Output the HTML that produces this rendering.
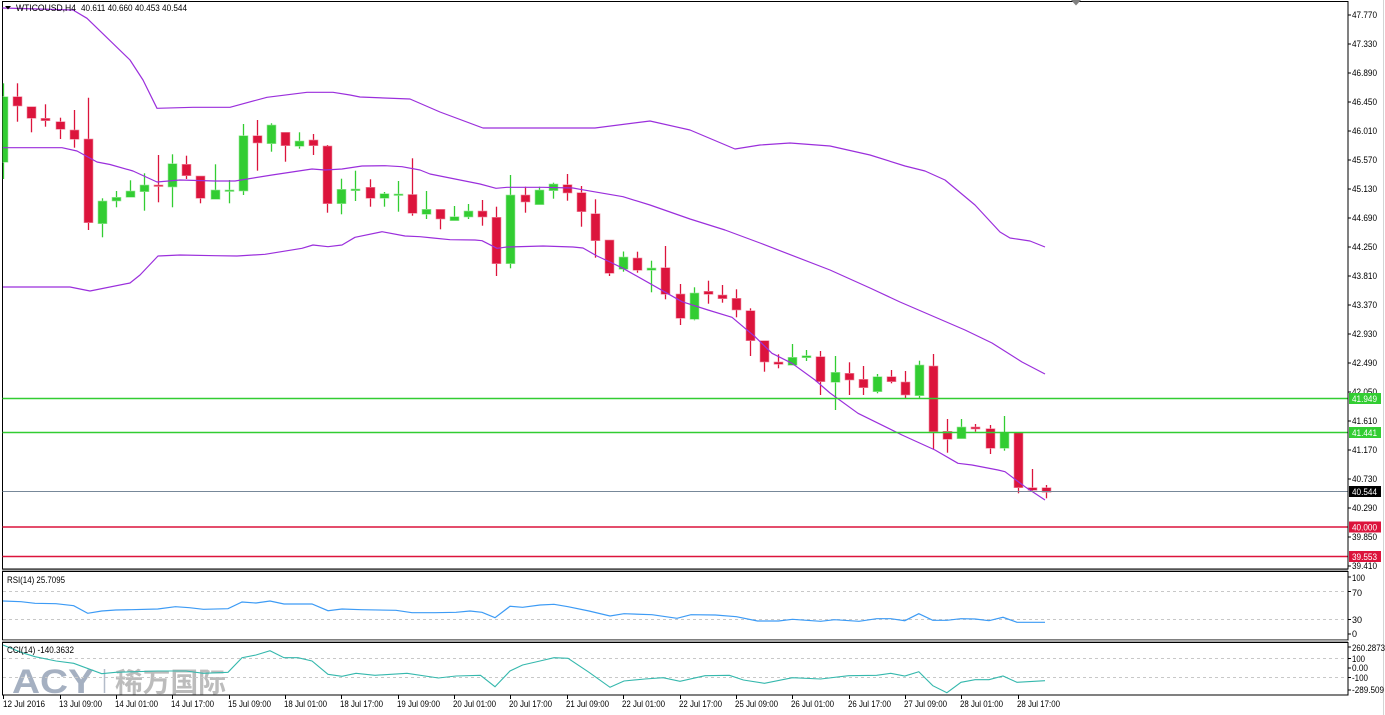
<!DOCTYPE html>
<html><head><meta charset="utf-8"><style>
html,body{margin:0;padding:0;background:#fff;}
svg{display:block;}
text{font-family:"Liberation Sans","Noto Sans CJK SC",sans-serif;font-size:9px;fill:#000;}
.r rect{fill:#DC143C;stroke:#f08aa0;stroke-width:0.6}
.r line{stroke:#DC143C;stroke-width:1.3}
.g rect{fill:#32CD32;stroke:#9be89b;stroke-width:0.6}
.g line{stroke:#32CD32;stroke-width:1.3}
</style></head><body>
<svg width="1385" height="715" viewBox="0 0 1385 715" xmlns="http://www.w3.org/2000/svg">
<defs><clipPath id="mc"><rect x="2.5" y="1.5" width="1345" height="567"/></clipPath>
<clipPath id="rc"><rect x="2.5" y="571.5" width="1345" height="68"/></clipPath>
<clipPath id="cc"><rect x="2.5" y="642.5" width="1345" height="52"/></clipPath></defs>
<rect width="1385" height="715" fill="#fff"/>
<line x1="1383.5" y1="0" x2="1383.5" y2="715" stroke="#d4d4d4"/>
<!-- panel frames -->
<rect x="2.5" y="1.5" width="1345.5" height="567.5" fill="none" stroke="#000"/>
<rect x="2" y="569.5" width="1346" height="2" fill="#a8a8a8"/>
<rect x="2.5" y="571.5" width="1345.5" height="68.5" fill="none" stroke="#000"/>
<rect x="2" y="640" width="1346" height="2.5" fill="#a8a8a8"/>
<rect x="2.5" y="642.5" width="1345.5" height="52.5" fill="none" stroke="#000"/>
<polygon points="1071,0 1081,0 1076,5.5" fill="#808080"/>
<!-- watermark -->
<g opacity="0.75">
<text x="12" y="693" style="font-size:34px;font-weight:bold;fill:#8796ad" textLength="82" lengthAdjust="spacingAndGlyphs">ACY</text>
<line x1="104.5" y1="669" x2="104.5" y2="693" stroke="#9aa6b8" stroke-width="1.5"/>
<text x="115" y="692" style="font-size:27px;font-weight:bold;fill:#a6a6a6" textLength="111" lengthAdjust="spacingAndGlyphs">稀万国际</text>
</g>
<g clip-path="url(#mc)">
<g class="r">
<line x1="17.5" y1="83.3" x2="17.5" y2="121.7"/><rect x="13" y="96.7" width="9" height="9.3"/>
<line x1="31.5" y1="106.7" x2="31.5" y2="132.3"/><rect x="27" y="106.7" width="9" height="11.6"/>
<line x1="45.5" y1="104.3" x2="45.5" y2="126.7"/><rect x="41" y="118.3" width="9" height="2.4"/>
<line x1="60.5" y1="117.7" x2="60.5" y2="139"/><rect x="56" y="121.7" width="9" height="7.6"/>
<line x1="74.5" y1="110" x2="74.5" y2="147.7"/><rect x="70" y="130" width="9" height="9.3"/>
<line x1="88.5" y1="97.7" x2="88.5" y2="230"/><rect x="84" y="139" width="9" height="83.7"/>
<line x1="158.5" y1="155" x2="158.5" y2="202.3"/><rect x="154" y="185" width="9" height="1.5"/>
<line x1="186.5" y1="155.7" x2="186.5" y2="179"/><rect x="182" y="164.3" width="9" height="11.4"/>
<line x1="200.5" y1="176" x2="200.5" y2="203.3"/><rect x="196" y="176" width="9" height="22.3"/>
<line x1="257.5" y1="120" x2="257.5" y2="170.7"/><rect x="253" y="135.7" width="9" height="7.3"/>
<line x1="285.5" y1="132.3" x2="285.5" y2="161.7"/><rect x="281" y="132.3" width="9" height="13.4"/>
<line x1="313.5" y1="134" x2="313.5" y2="155"/><rect x="309" y="140" width="9" height="5.7"/>
<line x1="327.5" y1="145" x2="327.5" y2="212.7"/><rect x="323" y="146" width="9" height="57.7"/>
<line x1="370.5" y1="179.3" x2="370.5" y2="206.7"/><rect x="366" y="187.3" width="9" height="11"/>
<line x1="412.5" y1="158.3" x2="412.5" y2="215.7"/><rect x="408" y="194.5" width="9" height="18.8"/>
<line x1="440.5" y1="209.3" x2="440.5" y2="229.3"/><rect x="436" y="209.3" width="9" height="9.7"/>
<line x1="482.5" y1="200" x2="482.5" y2="225.7"/><rect x="478" y="211" width="9" height="6"/>
<line x1="496.5" y1="206.7" x2="496.5" y2="276"/><rect x="492" y="217.3" width="9" height="46.4"/>
<line x1="525.5" y1="186.7" x2="525.5" y2="212.7"/><rect x="521" y="195" width="9" height="7"/>
<line x1="567.5" y1="174" x2="567.5" y2="200.7"/><rect x="563" y="184.7" width="9" height="8.3"/>
<line x1="581.5" y1="186" x2="581.5" y2="226.7"/><rect x="577" y="192.7" width="9" height="19"/>
<line x1="595.5" y1="199.3" x2="595.5" y2="257.7"/><rect x="591" y="213.7" width="9" height="27"/>
<line x1="609.5" y1="240" x2="609.5" y2="276"/><rect x="605" y="240" width="9" height="33.3"/>
<line x1="637.5" y1="251.7" x2="637.5" y2="272.7"/><rect x="633" y="258" width="9" height="12.3"/>
<line x1="665.5" y1="246" x2="665.5" y2="299.3"/><rect x="661" y="267.7" width="9" height="26.6"/>
<line x1="680.5" y1="284" x2="680.5" y2="325"/><rect x="676" y="294" width="9" height="24.3"/>
<line x1="708.5" y1="280.7" x2="708.5" y2="303.7"/><rect x="704" y="291.3" width="9" height="3"/>
<line x1="722.5" y1="285" x2="722.5" y2="302.7"/><rect x="718" y="295" width="9" height="3.7"/>
<line x1="736.5" y1="289.3" x2="736.5" y2="317.3"/><rect x="732" y="298.3" width="9" height="11.7"/>
<line x1="750.5" y1="308.3" x2="750.5" y2="356"/><rect x="746" y="310.7" width="9" height="30"/>
<line x1="764.5" y1="340.7" x2="764.5" y2="371.7"/><rect x="760" y="340.7" width="9" height="21.3"/>
<line x1="778.5" y1="354.3" x2="778.5" y2="368.3"/><rect x="774" y="362" width="9" height="2.3"/>
<line x1="820.5" y1="351" x2="820.5" y2="395"/><rect x="816" y="356.7" width="9" height="25"/>
<line x1="849.5" y1="362.3" x2="849.5" y2="395"/><rect x="845" y="373.3" width="9" height="6.7"/>
<line x1="863.5" y1="366" x2="863.5" y2="395"/><rect x="859" y="379.3" width="9" height="8.4"/>
<line x1="891.5" y1="370" x2="891.5" y2="383.3"/><rect x="887" y="376.7" width="9" height="5"/>
<line x1="905.5" y1="371" x2="905.5" y2="398.3"/><rect x="901" y="382" width="9" height="13"/>
<line x1="933.5" y1="354" x2="933.5" y2="449.3"/><rect x="929" y="366" width="9" height="65.7"/>
<line x1="947.5" y1="419" x2="947.5" y2="452.7"/><rect x="943" y="431.3" width="9" height="8"/>
<line x1="975.5" y1="424" x2="975.5" y2="431.7"/><rect x="971" y="427" width="9" height="2"/>
<line x1="990.5" y1="425" x2="990.5" y2="454"/><rect x="986" y="428.7" width="9" height="19.6"/>
<line x1="1018.5" y1="432.7" x2="1018.5" y2="493.3"/><rect x="1014" y="432.7" width="9" height="55"/>
<line x1="1032.5" y1="469" x2="1032.5" y2="491.7"/><rect x="1028" y="487.7" width="9" height="2.6"/>
<line x1="1046.5" y1="485" x2="1046.5" y2="498.3"/><rect x="1042" y="487.7" width="9" height="4.6"/>
</g>
<g class="g">
<line x1="3.5" y1="83.3" x2="3.5" y2="179"/><rect x="-1" y="96.7" width="9" height="65.6"/>
<line x1="102.5" y1="198.3" x2="102.5" y2="237.3"/><rect x="98" y="201" width="9" height="22.7"/>
<line x1="116.5" y1="191" x2="116.5" y2="207.3"/><rect x="112" y="197.3" width="9" height="3.7"/>
<line x1="130.5" y1="180.3" x2="130.5" y2="197.3"/><rect x="126" y="191" width="9" height="6.3"/>
<line x1="144.5" y1="173.3" x2="144.5" y2="210.7"/><rect x="140" y="185" width="9" height="6.7"/>
<line x1="172.5" y1="154.3" x2="172.5" y2="207.3"/><rect x="168" y="163.7" width="9" height="23.3"/>
<line x1="215.5" y1="164.3" x2="215.5" y2="199.3"/><rect x="211" y="190" width="9" height="9.3"/>
<line x1="229.5" y1="180" x2="229.5" y2="203.3"/><rect x="225" y="190" width="9" height="1.5"/>
<line x1="243.5" y1="124" x2="243.5" y2="195"/><rect x="239" y="135.7" width="9" height="55.3"/>
<line x1="271.5" y1="123.3" x2="271.5" y2="151.7"/><rect x="267" y="125" width="9" height="18.7"/>
<line x1="299.5" y1="132.3" x2="299.5" y2="148.7"/><rect x="295" y="141" width="9" height="5.3"/>
<line x1="341.5" y1="178.7" x2="341.5" y2="214.3"/><rect x="337" y="189.3" width="9" height="14.4"/>
<line x1="355.5" y1="170.7" x2="355.5" y2="201"/><rect x="351" y="189" width="9" height="1.7"/>
<line x1="384.5" y1="192" x2="384.5" y2="206.7"/><rect x="380" y="193.7" width="9" height="4.6"/>
<line x1="398.5" y1="181" x2="398.5" y2="211.7"/><rect x="394" y="194" width="9" height="1.5"/>
<line x1="426.5" y1="191" x2="426.5" y2="219"/><rect x="422" y="209.3" width="9" height="5"/>
<line x1="454.5" y1="206" x2="454.5" y2="220.7"/><rect x="450" y="216.7" width="9" height="4"/>
<line x1="468.5" y1="204" x2="468.5" y2="219"/><rect x="464" y="211" width="9" height="6"/>
<line x1="510.5" y1="175" x2="510.5" y2="268.3"/><rect x="506" y="195" width="9" height="68.7"/>
<line x1="539.5" y1="186.7" x2="539.5" y2="204.7"/><rect x="535" y="190" width="9" height="14.7"/>
<line x1="553.5" y1="182.7" x2="553.5" y2="198.7"/><rect x="549" y="184" width="9" height="6.7"/>
<line x1="623.5" y1="251.5" x2="623.5" y2="271.7"/><rect x="619" y="257" width="9" height="12.3"/>
<line x1="651.5" y1="260.7" x2="651.5" y2="292.3"/><rect x="647" y="268" width="9" height="2.3"/>
<line x1="694.5" y1="287.3" x2="694.5" y2="320.3"/><rect x="690" y="293" width="9" height="26.3"/>
<line x1="792.5" y1="344" x2="792.5" y2="365.3"/><rect x="788" y="357.3" width="9" height="8"/>
<line x1="806.5" y1="350" x2="806.5" y2="361"/><rect x="802" y="355.7" width="9" height="2"/>
<line x1="835.5" y1="356" x2="835.5" y2="410"/><rect x="831" y="372.3" width="9" height="10"/>
<line x1="877.5" y1="374" x2="877.5" y2="393.3"/><rect x="873" y="376.7" width="9" height="15"/>
<line x1="919.5" y1="360.7" x2="919.5" y2="398.3"/><rect x="915" y="365" width="9" height="30.7"/>
<line x1="961.5" y1="419" x2="961.5" y2="438.7"/><rect x="957" y="427" width="9" height="11.7"/>
<line x1="1004.5" y1="416" x2="1004.5" y2="450.7"/><rect x="1000" y="432.7" width="9" height="15.6"/>
</g>
<!-- Bollinger bands -->
<g fill="none" stroke="#9b2fdc" stroke-width="1.2" stroke-linejoin="round">
<polyline points="2,8 73,10 87,18.3 130,60 143,80 157,108.3 193,107.3 230,107.3 267,97.3 307,92.3 333,92.3 350,95 360,97 410,99 440,112 483,128 530,128 595,128 650,121 690,130 735,149 760,145 790,143 830,146 870,155 905,166 925,171 945,180 975,205 1000,232 1010,238 1030,241 1045,247"/>
<polyline points="3,147.7 62,147.7 77,151 97,162 110,164.5 133,171 157,182 180,180 215,181 235,181 272,175 312,169 325,170 342,169 362,166 385,165.7 402,166.7 420,170 430,174 460,180 480,184 496,188.3 507,187.3 543,187.3 573,188 580,189.3 623,196.7 650,205 690,219 725,230 760,243 830,270 870,288 900,302 965,330 992,343 1022,362 1045,374"/>
<polyline points="3,287 70,287 90,291 130,283 140,275 158,256 180,255 215,255.7 237,256 265,254.3 302,248.3 313,245 328,246.7 342,245 355,237.3 382,231.7 405,236 420,236.7 433,238 450,239.7 475,240 482,240.7 497,248.3 507,247 543,246 573,247 583,248 597,256 610,262 623,268.3 682,301.7 708,310 732,317.3 755,336.7 772,353.3 792,363.3 815,380 830,393 858,413.3 902,435 935,450 958,463.3 972,465 998,470 1005,471.7 1025,486.7 1045,500"/>
</g>
<!-- horizontal lines -->
<line x1="2" y1="398.5" x2="1348" y2="398.5" stroke="#32CD32" stroke-width="1.6"/>
<line x1="2" y1="432.5" x2="1348" y2="432.5" stroke="#32CD32" stroke-width="1.6"/>
<line x1="2" y1="491.5" x2="1348" y2="491.5" stroke="#778899" stroke-width="1"/>
<line x1="2" y1="527" x2="1348" y2="527" stroke="#DC143C" stroke-width="1.6"/>
<line x1="2" y1="556.5" x2="1348" y2="556.5" stroke="#DC143C" stroke-width="1.6"/>
</g>
<!-- header -->
<polygon points="5,6 11,6 8,9.5" fill="#000"/>
<text x="16" y="11" textLength="60" lengthAdjust="spacingAndGlyphs">WTICOUSD,H4</text>
<text x="81" y="11" textLength="106" lengthAdjust="spacingAndGlyphs">40.611 40.660 40.453 40.544</text>
<!-- price axis -->
<g stroke="#000" stroke-width="1">
<line x1="1348" y1="15" x2="1351" y2="15"/><line x1="1348" y1="44" x2="1351" y2="44"/><line x1="1348" y1="73" x2="1351" y2="73"/><line x1="1348" y1="102" x2="1351" y2="102"/><line x1="1348" y1="131" x2="1351" y2="131"/><line x1="1348" y1="160" x2="1351" y2="160"/><line x1="1348" y1="189" x2="1351" y2="189"/><line x1="1348" y1="218" x2="1351" y2="218"/><line x1="1348" y1="247" x2="1351" y2="247"/><line x1="1348" y1="276" x2="1351" y2="276"/><line x1="1348" y1="305" x2="1351" y2="305"/><line x1="1348" y1="334" x2="1351" y2="334"/><line x1="1348" y1="363" x2="1351" y2="363"/><line x1="1348" y1="392" x2="1351" y2="392"/><line x1="1348" y1="421" x2="1351" y2="421"/><line x1="1348" y1="450" x2="1351" y2="450"/><line x1="1348" y1="479" x2="1351" y2="479"/><line x1="1348" y1="508" x2="1351" y2="508"/><line x1="1348" y1="537" x2="1351" y2="537"/><line x1="1348" y1="566" x2="1351" y2="566"/>
</g>
<g>
<text x="1352" y="18" textLength="25" lengthAdjust="spacingAndGlyphs">47.770</text>
<text x="1352" y="47" textLength="25" lengthAdjust="spacingAndGlyphs">47.330</text>
<text x="1352" y="76" textLength="25" lengthAdjust="spacingAndGlyphs">46.890</text>
<text x="1352" y="105" textLength="25" lengthAdjust="spacingAndGlyphs">46.450</text>
<text x="1352" y="134" textLength="25" lengthAdjust="spacingAndGlyphs">46.010</text>
<text x="1352" y="163" textLength="25" lengthAdjust="spacingAndGlyphs">45.570</text>
<text x="1352" y="192" textLength="25" lengthAdjust="spacingAndGlyphs">45.130</text>
<text x="1352" y="221" textLength="25" lengthAdjust="spacingAndGlyphs">44.690</text>
<text x="1352" y="250" textLength="25" lengthAdjust="spacingAndGlyphs">44.250</text>
<text x="1352" y="279" textLength="25" lengthAdjust="spacingAndGlyphs">43.810</text>
<text x="1352" y="308" textLength="25" lengthAdjust="spacingAndGlyphs">43.370</text>
<text x="1352" y="337" textLength="25" lengthAdjust="spacingAndGlyphs">42.930</text>
<text x="1352" y="366" textLength="25" lengthAdjust="spacingAndGlyphs">42.490</text>
<text x="1352" y="395" textLength="25" lengthAdjust="spacingAndGlyphs">42.050</text>
<text x="1352" y="424" textLength="25" lengthAdjust="spacingAndGlyphs">41.610</text>
<text x="1352" y="453" textLength="25" lengthAdjust="spacingAndGlyphs">41.170</text>
<text x="1352" y="482" textLength="25" lengthAdjust="spacingAndGlyphs">40.730</text>
<text x="1352" y="511" textLength="25" lengthAdjust="spacingAndGlyphs">40.290</text>
<text x="1352" y="540" textLength="25" lengthAdjust="spacingAndGlyphs">39.850</text>
<text x="1352" y="569" textLength="25" lengthAdjust="spacingAndGlyphs">39.410</text>
</g>
<!-- price boxes -->
<rect x="1349" y="393" width="32" height="11" fill="#32CD32"/>
<text x="1352" y="401.8" style="fill:#fff" textLength="25" lengthAdjust="spacingAndGlyphs">41.949</text>
<rect x="1349" y="427" width="32" height="11" fill="#32CD32"/>
<text x="1352" y="435.8" style="fill:#fff" textLength="25" lengthAdjust="spacingAndGlyphs">41.441</text>
<rect x="1349" y="486" width="32" height="11" fill="#000"/>
<text x="1352" y="494.8" style="fill:#fff" textLength="25" lengthAdjust="spacingAndGlyphs">40.544</text>
<rect x="1349" y="521.5" width="32" height="11" fill="#DC143C"/>
<text x="1352" y="530.3" style="fill:#fff" textLength="25" lengthAdjust="spacingAndGlyphs">40.000</text>
<rect x="1349" y="551" width="32" height="11" fill="#DC143C"/>
<text x="1352" y="559.8" style="fill:#fff" textLength="25" lengthAdjust="spacingAndGlyphs">39.553</text>
<!-- RSI -->
<g stroke="#c8c8c8" stroke-dasharray="3,3" stroke-width="1">
<line x1="3" y1="591.5" x2="1347" y2="591.5"/><line x1="3" y1="619.5" x2="1347" y2="619.5"/>
<line x1="3" y1="658.5" x2="1347" y2="658.5"/><line x1="3" y1="677.5" x2="1347" y2="677.5"/>
</g>
<g clip-path="url(#rc)">
<polyline fill="none" stroke="#3d9bf5" stroke-width="1.2" points="3,601 21,601.7 35,603.3 56,603.7 73.7,605.7 87.7,613.3 101.7,611 115.7,610 131.5,609.7 157.8,609 175.4,606.7 189.4,607.7 203.4,609.3 228,608.7 242,602 256,603 270,601 284,604 312,604 328,610.7 342,609 361,609.7 396,610.3 412,612.7 435,612.7 456,612.3 470,611 482,612.3 495,617.7 510,606.3 522.6,607.3 540,605 554,604.3 568,606.7 589,611 610,616 624,613.7 652,614.7 677,618.3 691,614.7 715.4,615 736.4,616.7 757.5,621 778.5,621 792.5,619.3 820.6,621.3 834.6,619.7 859,621.3 876.7,618.7 890.7,618.7 904.8,620.7 918.8,613.7 932.8,620.3 946.9,620.3 961,618.7 975,619 989,620.7 1003,617.3 1017,622.3 1045,622.3"/>
</g>
<text x="7" y="583" textLength="58" lengthAdjust="spacingAndGlyphs">RSI(14) 25.7095</text>
<g clip-path="url(#cc)">
<polyline fill="none" stroke="#35b8ad" stroke-width="1.1" points="3,645 21,652.3 35,656.7 56,661 73.7,663.3 101.7,673.7 115.7,672.3 157.8,671 186,671 203.4,673.3 228,672.3 242,657.7 256,655 270,650.7 284,657.7 298,657.7 312,661 328,674.3 342,676.3 356,673.3 375,675.3 407,673.3 438.4,678 456,676 480.5,675.3 495,686.7 510,671 522.6,665 540,661 554,657.7 568,658.3 589,672.3 610,687.3 624,681 645,679 663,677.7 680,681.3 705,675.7 729.4,675.3 743.4,680 764.5,683.3 792.5,677.7 820.6,679 848.6,675.7 876.7,675.3 890.7,673.3 904.8,676 918.8,671.7 932.8,685.7 946.9,692.7 961,682.3 975,679.7 989,679.7 1003,676 1017,682.3 1045,680.7"/>
</g>
<text x="7" y="653" textLength="67" lengthAdjust="spacingAndGlyphs">CCI(14) -140.3632</text>
<!-- indicator axis labels -->
<g stroke="#000"><line x1="1348" y1="577" x2="1351" y2="577"/><line x1="1348" y1="591.5" x2="1351" y2="591.5"/><line x1="1348" y1="619.5" x2="1351" y2="619.5"/><line x1="1348" y1="634" x2="1351" y2="634"/>
<line x1="1348" y1="647" x2="1351" y2="647"/><line x1="1348" y1="658.5" x2="1351" y2="658.5"/><line x1="1348" y1="668" x2="1351" y2="668"/><line x1="1348" y1="677.5" x2="1351" y2="677.5"/><line x1="1348" y1="690" x2="1351" y2="690"/></g>
<text x="1352" y="581" textLength="13" lengthAdjust="spacingAndGlyphs">100</text>
<text x="1352" y="596">70</text>
<text x="1352" y="623">30</text>
<text x="1352" y="637">0</text>
<text x="1352" y="651" textLength="33" lengthAdjust="spacingAndGlyphs">260.2873</text>
<text x="1352" y="662" textLength="13" lengthAdjust="spacingAndGlyphs">100</text>
<text x="1352" y="671" textLength="16" lengthAdjust="spacingAndGlyphs">0.00</text>
<text x="1352" y="681" textLength="16" lengthAdjust="spacingAndGlyphs">-100</text>
<text x="1352" y="693" textLength="32" lengthAdjust="spacingAndGlyphs">-289.509</text>
<!-- time axis -->
<g stroke="#000">
<line x1="3.5" y1="695" x2="3.5" y2="699"/><line x1="60.5" y1="695" x2="60.5" y2="699"/><line x1="116.5" y1="695" x2="116.5" y2="699"/><line x1="172.5" y1="695" x2="172.5" y2="699"/><line x1="229.5" y1="695" x2="229.5" y2="699"/><line x1="285.5" y1="695" x2="285.5" y2="699"/><line x1="341.5" y1="695" x2="341.5" y2="699"/><line x1="398.5" y1="695" x2="398.5" y2="699"/><line x1="454.5" y1="695" x2="454.5" y2="699"/><line x1="510.5" y1="695" x2="510.5" y2="699"/><line x1="567.5" y1="695" x2="567.5" y2="699"/><line x1="623.5" y1="695" x2="623.5" y2="699"/><line x1="680.5" y1="695" x2="680.5" y2="699"/><line x1="736.5" y1="695" x2="736.5" y2="699"/><line x1="792.5" y1="695" x2="792.5" y2="699"/><line x1="849.5" y1="695" x2="849.5" y2="699"/><line x1="905.5" y1="695" x2="905.5" y2="699"/><line x1="961.5" y1="695" x2="961.5" y2="699"/><line x1="1018.5" y1="695" x2="1018.5" y2="699"/>
</g>
<g>
<text x="3" y="707" textLength="42" lengthAdjust="spacingAndGlyphs">12 Jul 2016</text>
<text x="59" y="707" textLength="43" lengthAdjust="spacingAndGlyphs">13 Jul 09:00</text>
<text x="115" y="707" textLength="43" lengthAdjust="spacingAndGlyphs">14 Jul 01:00</text>
<text x="171" y="707" textLength="43" lengthAdjust="spacingAndGlyphs">14 Jul 17:00</text>
<text x="228" y="707" textLength="43" lengthAdjust="spacingAndGlyphs">15 Jul 09:00</text>
<text x="284" y="707" textLength="43" lengthAdjust="spacingAndGlyphs">18 Jul 01:00</text>
<text x="340" y="707" textLength="43" lengthAdjust="spacingAndGlyphs">18 Jul 17:00</text>
<text x="397" y="707" textLength="43" lengthAdjust="spacingAndGlyphs">19 Jul 09:00</text>
<text x="453" y="707" textLength="43" lengthAdjust="spacingAndGlyphs">20 Jul 01:00</text>
<text x="509" y="707" textLength="43" lengthAdjust="spacingAndGlyphs">20 Jul 17:00</text>
<text x="566" y="707" textLength="43" lengthAdjust="spacingAndGlyphs">21 Jul 09:00</text>
<text x="622" y="707" textLength="43" lengthAdjust="spacingAndGlyphs">22 Jul 01:00</text>
<text x="679" y="707" textLength="43" lengthAdjust="spacingAndGlyphs">22 Jul 17:00</text>
<text x="735" y="707" textLength="43" lengthAdjust="spacingAndGlyphs">25 Jul 09:00</text>
<text x="791" y="707" textLength="43" lengthAdjust="spacingAndGlyphs">26 Jul 01:00</text>
<text x="848" y="707" textLength="43" lengthAdjust="spacingAndGlyphs">26 Jul 17:00</text>
<text x="904" y="707" textLength="43" lengthAdjust="spacingAndGlyphs">27 Jul 09:00</text>
<text x="960" y="707" textLength="43" lengthAdjust="spacingAndGlyphs">28 Jul 01:00</text>
<text x="1017" y="707" textLength="43" lengthAdjust="spacingAndGlyphs">28 Jul 17:00</text>
</g>
</svg>
</body></html>
